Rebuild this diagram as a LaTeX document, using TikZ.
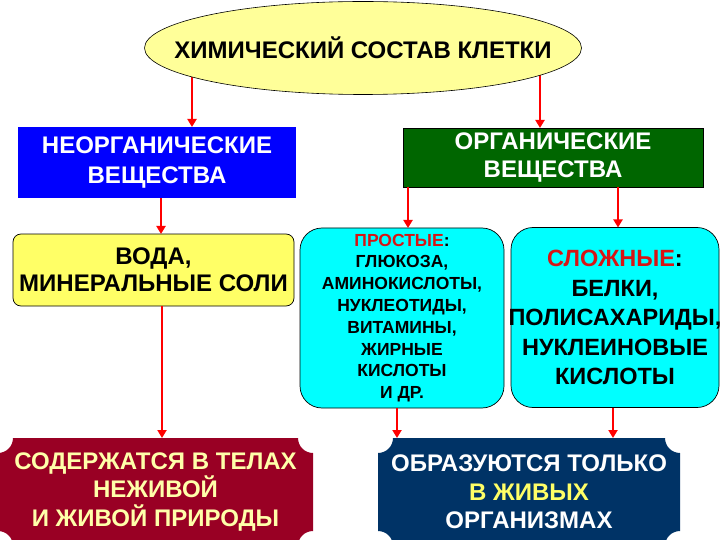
\documentclass[tikz,border=0pt]{standalone}
\usepackage{fontspec}
\setmainfont{Liberation Sans}
\usetikzlibrary{arrows.meta,positioning,shapes.geometric,backgrounds}
\definecolor{KletkaYellowPale}{RGB}{255,255,153}
\definecolor{KletkaYellow}{RGB}{255,255,102}
\definecolor{KletkaCream}{RGB}{255,255,170}
\definecolor{KletkaBlue}{RGB}{0,0,255}
\definecolor{KletkaGreen}{RGB}{0,102,0}
\definecolor{KletkaCyan}{RGB}{0,255,255}
\definecolor{KletkaWine}{RGB}{153,0,36}
\definecolor{KletkaNavy}{RGB}{0,51,102}
\definecolor{KletkaRed}{RGB}{255,0,0}
\definecolor{KletkaRedText}{RGB}{215,20,20}
\tikzset{
  blok/.style={draw=black, line width=0.7pt, align=center, inner sep=2pt, outer sep=0pt,
               font=\fontsize{24}{30}\selectfont\bfseries},
  blokkrugl/.style={blok, rounded corners=8pt},
  blokgoluboj/.style={blok, fill=KletkaCyan, rounded corners=22pt,
               minimum height=180pt},
  strelka/.style={-{Triangle[length=8pt,width=9pt]}, line width=2.6pt, KletkaRed},
  tablichka/.style={align=center, inner sep=2pt, outer sep=0pt, minimum height=108pt,
               font=\fontsize{24}{28.5}\selectfont\bfseries},
}
% табличка с вырезанными углами
\newcommand{\tablichkaramka}[3]{%
  \fill[#2] ([xshift=#3]#1.north west) -- ([xshift=-#3]#1.north east)
    arc[start angle=180,end angle=270,radius=#3] -- ([yshift=#3]#1.south east)
    arc[start angle=90,end angle=180,radius=#3] -- ([xshift=#3]#1.south west)
    arc[start angle=0,end angle=90,radius=#3] -- ([yshift=-#3]#1.north west)
    arc[start angle=270,end angle=360,radius=#3] -- cycle;}

\begin{document}
\begin{tikzpicture}[x=1pt,y=-1pt]
  \useasboundingbox (0,0) rectangle (720,540);
  \clip (0,0) rectangle (720,540);

  % заголовок
  \node[ellipse, draw=black, line width=0.6pt, fill=KletkaYellowPale, inner sep=0pt,
        minimum width=437pt, minimum height=93pt, font=\fontsize{24}{28}\selectfont\bfseries]
        (sostav) at (363,48) {\makebox[280pt]{ХИМИЧЕСКИЙ СОСТАВ КЛЕТКИ}};

  % второй уровень
  \node[blok, draw=none, fill=KletkaBlue, text=white, minimum width=278pt, minimum height=71pt]
        (neorg) at (157,162.5) {НЕОРГАНИЧЕСКИЕ\\ВЕЩЕСТВА};
  \node[blok, fill=KletkaGreen, text=white, minimum width=300pt, minimum height=59pt,
        font=\fontsize{24}{28}\selectfont\bfseries] (org) at (553,157.5) {ОРГАНИЧЕСКИЕ\\ВЕЩЕСТВА};

  % третий уровень
  \node[blokkrugl, fill=KletkaYellow, minimum width=281pt, minimum height=72pt,
        font=\fontsize{24}{27}\selectfont\bfseries] (voda) at (153.5,270)
        {ВОДА,\\МИНЕРАЛЬНЫЕ СОЛИ};
  \node[blokgoluboj, minimum width=204pt, font=\fontsize{17.5}{21.8}\selectfont\bfseries]
        (prostye) at (402,318)
        {\textcolor{KletkaRedText}{ПРОСТЫЕ}:\\ГЛЮКОЗА,\\АМИНОКИСЛОТЫ,\\НУКЛЕОТИДЫ,\\ВИТАМИНЫ,\\ЖИРНЫЕ\\КИСЛОТЫ\\И ДР.};
  \node[blokgoluboj, minimum width=208pt, font=\fontsize{23.5}{29.5}\selectfont\bfseries]
        (slozhnye) at (615,317.5)
        {\textcolor{KletkaRedText}{СЛОЖНЫЕ}:\\БЕЛКИ,\\\makebox[180pt]{ПОЛИСАХАРИДЫ,}\\НУКЛЕИНОВЫЕ\\КИСЛОТЫ};

  % нижний уровень
  \node[tablichka, text=KletkaCream, minimum width=315pt] (nezhivaya) at (155.5,492)
        {\makebox[280pt]{СОДЕРЖАТСЯ В ТЕЛАХ}\\НЕЖИВОЙ\\И ЖИВОЙ ПРИРОДЫ};
  \node[tablichka, text=white, minimum width=302pt] (zhivye) at (529,492)
        {\makebox[270pt]{ОБРАЗУЮТСЯ ТОЛЬКО}\\\textcolor{KletkaYellow}{В ЖИВЫХ}\\ОРГАНИЗМАХ};

  % положение стрелок
  \coordinate (s1) at (192,0);
  \coordinate (s2) at (540,0);
  \coordinate (s3) at (161,0);
  \coordinate (s4) at (408,0);
  \coordinate (s5) at (618,0);
  \coordinate (s6) at (162,0);
  \coordinate (s7) at (397,0);
  \coordinate (s8) at (613,0);

  \begin{scope}[on background layer]
    \tablichkaramka{nezhivaya}{KletkaWine}{15pt}
    \tablichkaramka{zhivye}{KletkaNavy}{15pt}
    \draw[strelka] (sostav.center -| s1) -- (neorg.north -| s1);
    \draw[strelka] (sostav.center -| s2) -- (org.north -| s2);
  \end{scope}

  \draw[strelka] (neorg.south -| s3) -- (voda.north -| s3);
  \draw[strelka] (org.south -| s4) -- (prostye.north -| s4);
  \draw[strelka] (org.south -| s5) -- (slozhnye.north -| s5);
  \draw[strelka] (voda.south -| s6) -- (nezhivaya.north -| s6);
  \draw[strelka] (prostye.south -| s7) -- (zhivye.north -| s7);
  \draw[strelka] (slozhnye.south -| s8) -- (zhivye.north -| s8);
\end{tikzpicture}
\end{document}
